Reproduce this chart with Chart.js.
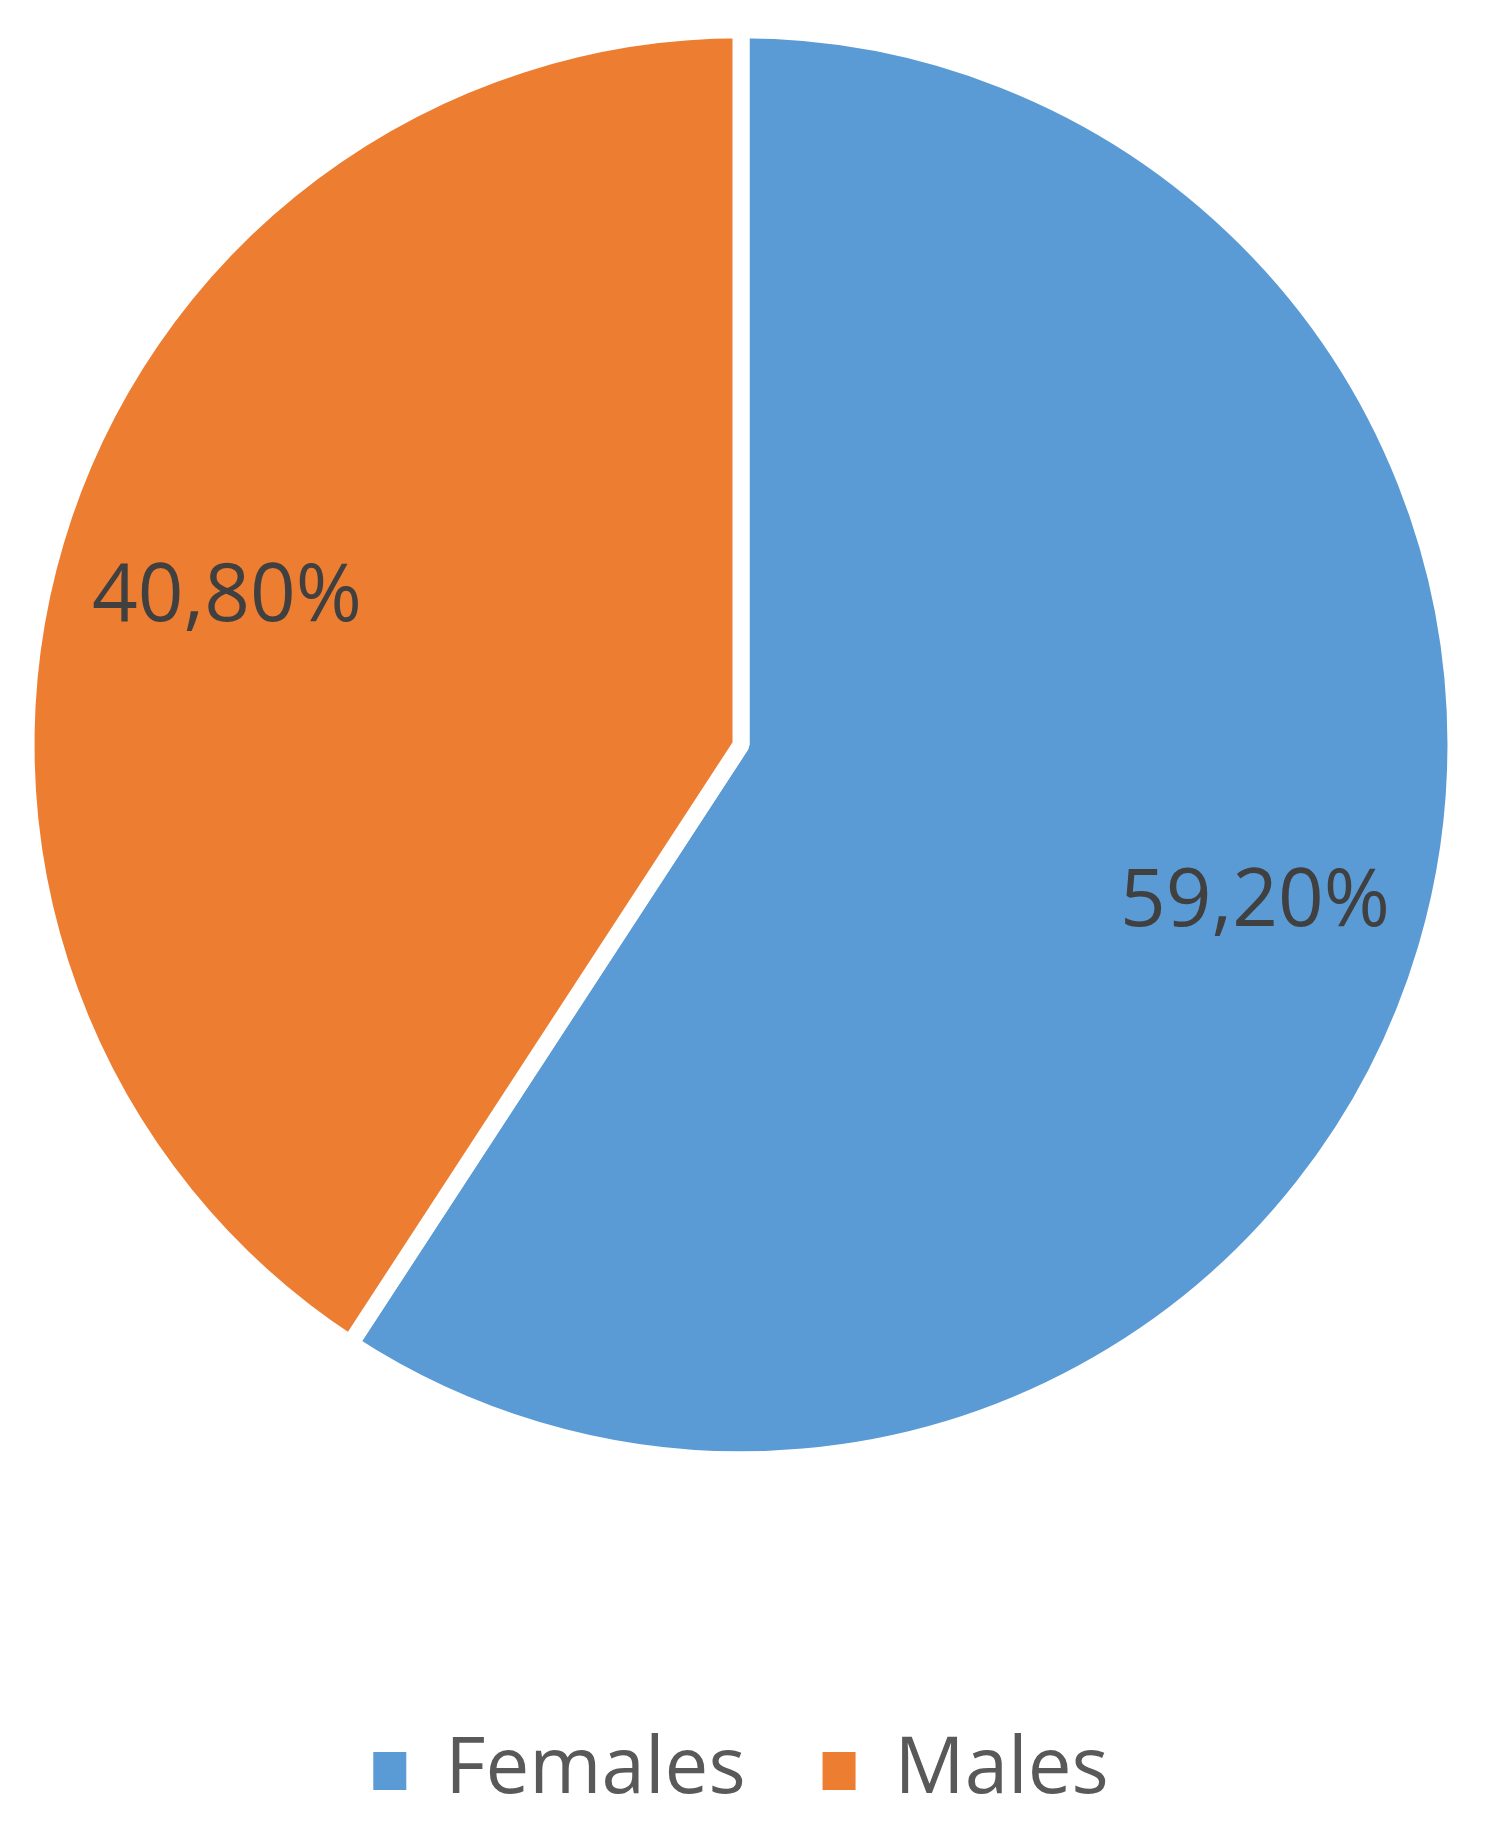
<!DOCTYPE html>
<html>
<head>
<meta charset="utf-8">
<script src="https://cdn.jsdelivr.net/npm/chart.js@4.4.1/dist/chart.umd.min.js"></script>
<style>
  html, body { margin: 0; padding: 0; background: #ffffff; }
  #wrap { width: 1500px; height: 1831px; }
</style>
</head>
<body>
<div id="wrap"><canvas id="chart-area" width="1500" height="1831"></canvas></div>
<script>
var categories = ['Females', 'Males'];
var shares = [59.2, 40.8];
var sliceColors = ['#5B9BD5', '#ED7D31'];

// percentage labels written inside each slice, Excel style "59,20%"
var sliceLabels = {
    id: 'sliceLabels',
    afterDatasetsDraw: function (chart) {
        var ctx = chart.ctx;
        var meta = chart.getDatasetMeta(0);
        var size = 80;
        ctx.save();
        ctx.font = size + 'px "Open Sans", sans-serif';
        ctx.fillStyle = '#404040';
        ctx.textAlign = 'center';
        ctx.textBaseline = 'alphabetic';
        meta.data.forEach(function (arc, i) {
            var mid = (arc.startAngle + arc.endAngle) / 2;
            var r = arc.outerRadius * 0.75;
            var txt = shares[i].toFixed(2).replace('.', ',') + '%';
            // baseline set so the digits are centred on the point
            ctx.fillText(txt, arc.x + Math.cos(mid) * r, arc.y + Math.sin(mid) * r + size * 0.357);
        });
        ctx.restore();
    }
};

var pieLegendLabels = Chart.overrides.pie.plugins.legend.labels.generateLabels;

var config = {
    type: 'pie',
    data: {
        labels: categories,
        datasets: [{
            data: shares,
            backgroundColor: sliceColors,
            borderColor: '#ffffff',
            borderWidth: 17,
            radius: 715
        }]
    },
    options: {
        responsive: false,
        animation: false,
        layout: {
            padding: { top: 30, bottom: 11, left: 0, right: 18 }
        },
        plugins: {
            tooltip: { enabled: false },
            legend: {
                position: 'bottom',
                title: {
                    display: true,
                    text: '',
                    padding: { top: 181, bottom: 0 }
                },
                labels: {
                    boxWidth: 33,
                    boxHeight: 38,
                    padding: 77,
                    color: '#595959',
                    font: { family: '"Open Sans", sans-serif', size: 78 },
                    generateLabels: function (chart) {
                        var items = pieLegendLabels(chart);
                        items.forEach(function (it) { it.lineWidth = 0; });
                        return items;
                    }
                }
            }
        }
    },
    plugins: [sliceLabels]
};

var ctx = document.getElementById('chart-area').getContext('2d');
var myChart = new Chart(ctx, config);
</script>
</body>
</html>
